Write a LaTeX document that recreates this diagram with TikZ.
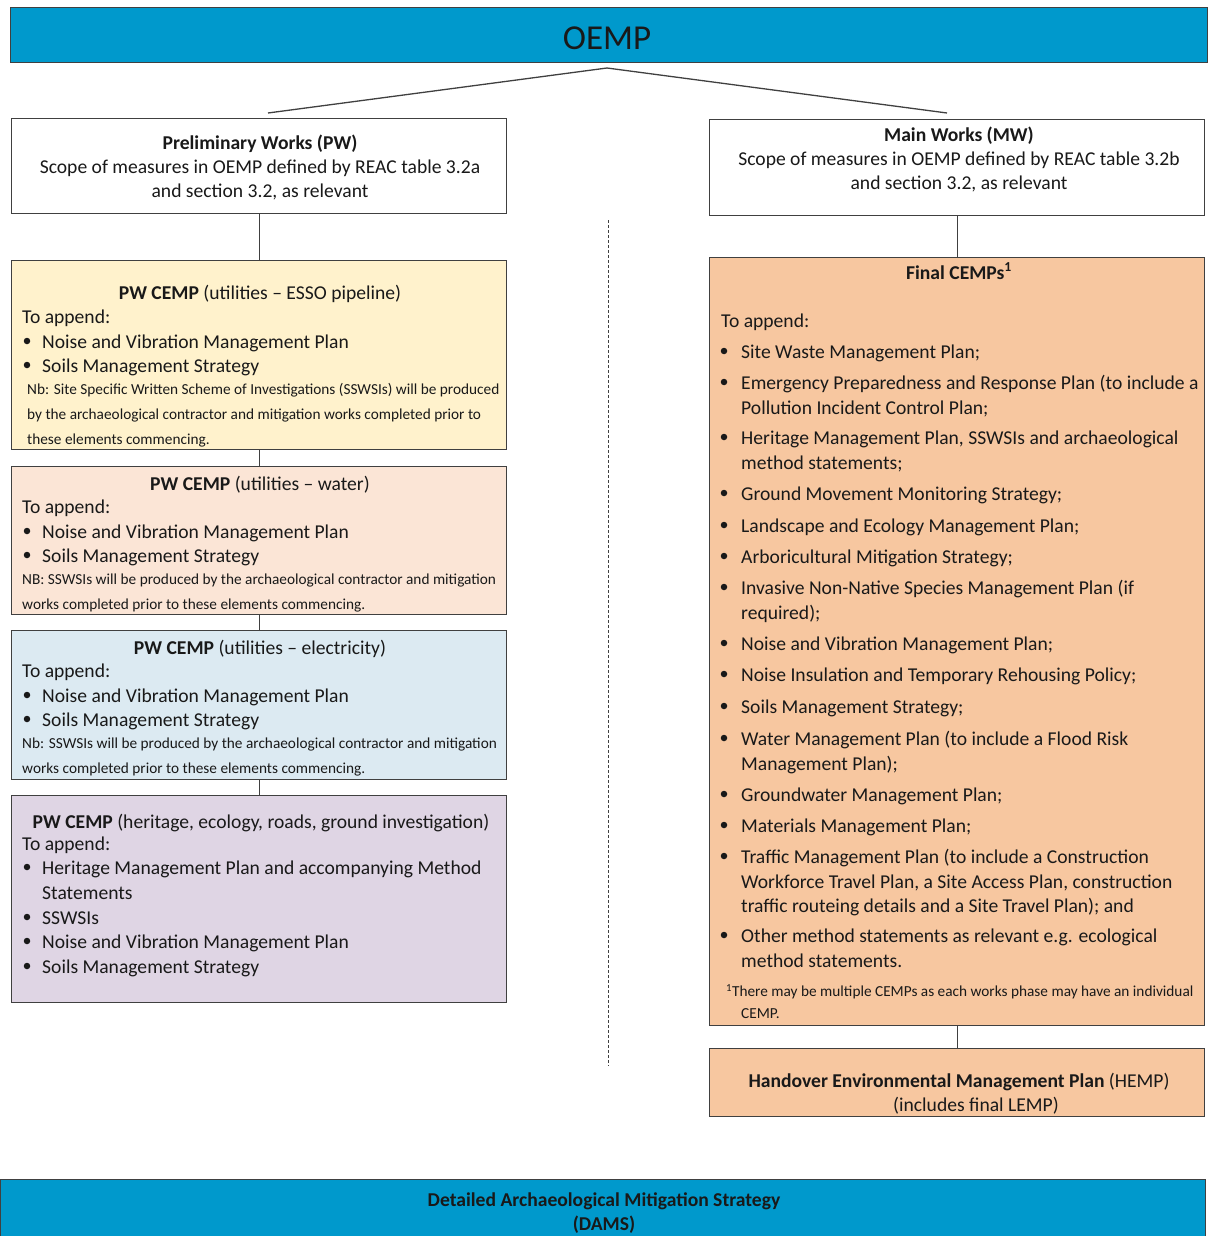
\documentclass[tikz,border=0pt]{standalone}
\usepackage{fontspec}
\setmainfont{Carlito}
\definecolor{oempblue}{HTML}{0099CC}
\definecolor{essofill}{HTML}{FFF2CC}
\definecolor{waterfill}{HTML}{FBE5D6}
\definecolor{elecfill}{HTML}{DCEAF2}
\definecolor{herifill}{HTML}{DFD5E4}
\definecolor{finalfill}{HTML}{F7C7A0}
\begin{document}
\begin{tikzpicture}[x=1pt,y=-1pt,
	box/.style={draw=black!75,line width=1.3pt,inner sep=0pt,anchor=north west},
	conn/.style={draw=black!75,line width=1.3pt},
	txt/.style={inner sep=0pt,anchor=west,text height=0.7em,text depth=0.25em,yshift=-5pt,text=black!90,font=\fontsize{19.6}{24}\selectfont},
	ctxt/.style={txt,anchor=center},
	note/.style={txt,yshift=2pt,font=\fontsize{15.3}{18}\selectfont},
	dot/.style={circle,fill=black!90,inner sep=0pt,minimum size=6.5pt}]
	\useasboundingbox (0,0) rectangle (1208,1236);

	%bars
	\node[box,fill=oempblue,minimum width=1197pt,minimum height=55pt] (oemp) at (10,7) {};
	\node[ctxt,yshift=-4pt,font=\fontsize{35}{40}\selectfont] (oempt) at (607,38) {OEMP};
	\node[box,fill=oempblue,minimum width=1205pt,minimum height=62pt] (dams) at (0,1179) {};
	\node[ctxt,yshift=1pt,font=\bfseries\fontsize{19.6}{24}\selectfont] (damst1) at (604,1200) {Detailed Archaeological Mitigation Strategy};
	\node[ctxt,yshift=1pt,font=\bfseries\fontsize{19.6}{24}\selectfont] (damst2) at (604,1224) {(DAMS)};

	%split
	\coordinate (apex) at (607,68);
	\coordinate (pwend) at (268,113);
	\coordinate (mwend) at (947,113);
	\draw[conn] (pwend) -- (apex) -- (mwend);
	\coordinate (dtop) at (608,220);
	\coordinate (dbot) at (608,1066);
	\draw[black!75,line width=1pt,dash pattern=on 3pt off 2pt] (dtop) -- (dbot);

	%preliminary works
	\node[box,fill=white,minimum width=495pt,minimum height=95pt] (pw) at (11,118) {};
		\node[ctxt,font=\bfseries\fontsize{19.6}{24}\selectfont] (pwt1) at (260,142) {Preliminary Works (PW)};
		\node[ctxt] (pwt2) at (260,166) {Scope of measures in OEMP defined by REAC table 3.2a};
		\node[ctxt] (pwt3) at (260,190) {and section 3.2, as relevant};
	%
	\node[box,fill=essofill,minimum width=495pt,minimum height=189pt] (esso) at (11,260) {};
		\node[ctxt] (essot) at (260,292) {\textbf{PW CEMP} (utilities – ESSO pipeline)};
		\node[txt] (essoa) at (22,316) {To append:};
		\node[dot] (essod1) at (27,341) {};
		\node[txt] (essob1) at (42,341) {Noise and Vibration Management Plan};
		\node[dot] (essod2) at (27,365) {};
		\node[txt] (essob2) at (42,365) {Soils Management Strategy};
		\node[note] (esson1) at (27,389) {Nb: Site Specific Written Scheme of Investigations (SSWSIs) will be produced};
		\node[note] (esson2) at (27,414) {by the archaeological contractor and mitigation works completed prior to};
		\node[note] (esson3) at (27,439) {these elements commencing.};
	%
	\node[box,fill=waterfill,minimum width=495pt,minimum height=148pt] (water) at (11,466) {};
		\node[ctxt] (watert) at (260,483) {\textbf{PW CEMP} (utilities – water)};
		\node[txt] (watera) at (22,506) {To append:};
		\node[dot] (waterd1) at (27,531) {};
		\node[txt] (waterb1) at (42,531) {Noise and Vibration Management Plan};
		\node[dot] (waterd2) at (27,555) {};
		\node[txt] (waterb2) at (42,555) {Soils Management Strategy};
		\node[note] (watern1) at (22,579) {NB: SSWSIs will be produced by the archaeological contractor and mitigation};
		\node[note] (watern2) at (22,604) {works completed prior to these elements commencing.};
	%
	\node[box,fill=elecfill,minimum width=495pt,minimum height=149pt] (elec) at (11,630) {};
		\node[ctxt] (elect) at (260,647) {\textbf{PW CEMP} (utilities – electricity)};
		\node[txt] (eleca) at (22,670) {To append:};
		\node[dot] (elecd1) at (27,695) {};
		\node[txt] (elecb1) at (42,695) {Noise and Vibration Management Plan};
		\node[dot] (elecd2) at (27,719) {};
		\node[txt] (elecb2) at (42,719) {Soils Management Strategy};
		\node[note] (elecn1) at (22,743) {Nb: SSWSIs will be produced by the archaeological contractor and mitigation};
		\node[note] (elecn2) at (22,768) {works completed prior to these elements commencing.};
	%
	\node[box,fill=herifill,minimum width=495pt,minimum height=207pt] (heri) at (11,795) {};
		\node[ctxt] (herit) at (261,821) {\textbf{PW CEMP} (heritage, ecology, roads, ground investigation)};
		\node[txt] (heria) at (22,843) {To append:};
		\foreach \y/\t [count=\i] in {867/{Heritage Management Plan and accompanying Method},
			917/{SSWSIs},941/{Noise and Vibration Management Plan},966/{Soils Management Strategy}}
		{
			\node[dot] (herid\i) at (27,\y) {};
			\node[txt] (herib\i) at (42,\y) {\t};
		}
		\node[txt] (heric) at (42,892) {Statements};

	\draw[conn] (pw.south) -- (esso.north);
	\draw[conn] (esso.south) -- (water.north);
	\draw[conn] (water.south) -- (elec.north);
	\draw[conn] (elec.south) -- (heri.north);

	%main works
	\node[box,fill=white,minimum width=495pt,minimum height=96pt] (mw) at (709,119) {};
		\node[ctxt,font=\bfseries\fontsize{19.6}{24}\selectfont] (mwt1) at (959,134) {Main Works (MW)};
		\node[ctxt] (mwt2) at (959,158) {Scope of measures in OEMP defined by REAC table 3.2b};
		\node[ctxt] (mwt3) at (959,182) {and section 3.2, as relevant};
	%
	\node[box,fill=finalfill,minimum width=495pt,minimum height=768pt] (final) at (709,257) {};
		\node[ctxt] (finalt) at (959,272) {\textbf{Final CEMPs\textsuperscript{1}}};
		\node[txt] (finala) at (721,320) {To append:};
		\foreach \y/\t [count=\i] in {
			351/{Site Waste Management Plan;},
			382/{Emergency Preparedness and Response Plan (to include a},
			437/{Heritage Management Plan, SSWSIs and archaeological},
			493/{Ground Movement Monitoring Strategy;},
			525/{Landscape and Ecology Management Plan;},
			556/{Arboricultural Mitigation Strategy;},
			587/{Invasive Non-Native Species Management Plan (if},
			643/{Noise and Vibration Management Plan;},
			674/{Noise Insulation and Temporary Rehousing Policy;},
			706/{Soils Management Strategy;},
			738/{Water Management Plan (to include a Flood Risk},
			794/{Groundwater Management Plan;},
			825/{Materials Management Plan;},
			856/{Traffic Management Plan (to include a Construction},
			935/{Other method statements as relevant e.g. ecological}}
		{
			\node[dot] (finald\i) at (724,\y) {};
			\node[txt] (finalb\i) at (741,\y) {\t};
		}
		\foreach \y/\t [count=\i] in {
			407/{Pollution Incident Control Plan;},
			462/{method statements;},
			612/{required);},
			763/{Management Plan);},
			881/{Workforce Travel Plan, a Site Access Plan, construction},
			905/{traffic routeing details and a Site Travel Plan); and},
			960/{method statements.}}
		{
			\node[txt] (finalc\i) at (741,\y) {\t};
		}
		\node[note] (finaln1) at (726,991) {\textsuperscript{1}There may be multiple CEMPs as each works phase may have an individual};
		\node[note] (finaln2) at (741,1013) {CEMP.};
	%
	\node[box,fill=finalfill,minimum width=495pt,minimum height=68pt] (hemp) at (709,1048) {};
		\node[ctxt] (hempt1) at (959,1080) {\textbf{Handover Environmental Management Plan} (HEMP)};
		\node[ctxt] (hempt2) at (976,1104) {(includes final LEMP)};

	\draw[conn] (mw.south) -- (final.north);
	\draw[conn] (final.south) -- (hemp.north);
\end{tikzpicture}
\end{document}
